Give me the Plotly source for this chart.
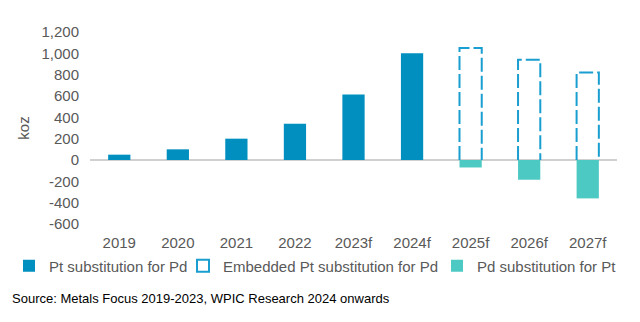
import plotly.graph_objects as go

# Autocatalyst substitution volumes, koz
years = ["2019", "2020", "2021", "2022", "2023f", "2024f", "2025f", "2026f", "2027f"]
pt_for_pd = [50, 100, 200, 340, 615, 1000, None, None, None]
embedded_pt_for_pd = [None, None, None, None, None, None, 1050, 940, 820]
pd_for_pt = [None, None, None, None, None, None, -70, -185, -360]

y_ticks = [-600, -400, -200, 0, 200, 400, 600, 800, 1000, 1200]
y_tick_text = ["-600", "-400", "-200", "0", "200", "400", "600", "800", "1,000", "1,200"]

BLUE = "#008FBE"
DASH_BLUE = "#1A9ED0"
TEAL = "#4DC9C4"
GREY_TXT = "#595959"
FONT = "Liberation Sans, Arial, sans-serif"
BAR_W = 0.38
DASH = "14px,4px"

xpos = list(range(len(years)))

fig = go.Figure()
fig.add_trace(go.Bar(
    x=xpos, y=pt_for_pd, width=BAR_W, name="Pt substitution for Pd",
    marker=dict(color=BLUE, line=dict(width=0)), legend="legend",
))
fig.add_trace(go.Bar(
    x=xpos, y=pd_for_pt, width=BAR_W, name="Pd substitution for Pt",
    marker=dict(color=TEAL, line=dict(width=0)), legend="legend3",
))

# Embedded volumes: open dashed outlines rising from zero
for i, v in zip(xpos, embedded_pt_for_pd):
    if v is None:
        continue
    x0, x1 = i - BAR_W / 2, i + BAR_W / 2
    fig.add_shape(
        type="path", xref="x", yref="y",
        path=f"M {x0},0 L {x0},{v} L {x1},{v} L {x1},0",
        line=dict(color=DASH_BLUE, width=2, dash=DASH),
        fillcolor="rgba(0,0,0,0)", showlegend=False,
    )

# legend key for the dashed series
fig.add_shape(
    type="rect", xref="x", yref="y", x0=0, x1=0, y0=0, y1=0,
    line=dict(color=DASH_BLUE, width=2, dash="4px,1px"),
    fillcolor="rgba(0,0,0,0)",
    showlegend=True, name="Embedded Pt substitution for Pd", legend="legend2",
)

legend_common = dict(
    orientation="h", xref="container", yref="container",
    y=1 - 266 / 322, xanchor="left", yanchor="middle",
    font=dict(size=15, color=GREY_TXT), bgcolor="rgba(0,0,0,0)",
)

fig.update_layout(
    width=640, height=322,
    margin=dict(l=90, r=23, t=32, b=98, autoexpand=False),
    paper_bgcolor="white", plot_bgcolor="white",
    barmode="overlay",
    font=dict(family=FONT, size=15, color=GREY_TXT),
    showlegend=True,
    legend=dict(x=9 / 640, **legend_common),
    legend2=dict(x=183 / 640, **legend_common),
    legend3=dict(x=437 / 640, **legend_common),
    xaxis=dict(
        range=[-0.5, len(years) - 0.5],
        tickvals=xpos, ticktext=years, showgrid=False, zeroline=False,
        showline=False, ticks="", ticklabelstandoff=8,
        tickfont=dict(size=15, color=GREY_TXT),
    ),
    yaxis=dict(
        range=[-600, 1200], tickvals=y_ticks, ticktext=y_tick_text,
        showgrid=False, zeroline=True, zerolinecolor="#D0D0D0", zerolinewidth=1.5,
        showline=False, ticks="", ticklabelstandoff=10,
        tickfont=dict(size=15, color=GREY_TXT),
        title=dict(text="koz", standoff=8, font=dict(size=15, color=GREY_TXT)),
    ),
    annotations=[dict(
        text="Source: Metals Focus 2019-2023, WPIC Research 2024 onwards",
        xref="paper", yref="paper", x=(10 - 90) / 527, y=(224 - 298) / 192,
        xanchor="left", yanchor="middle", showarrow=False,
        font=dict(family=FONT, size=13, color="black"),
    )],
)

fig.write_html("out.html")
